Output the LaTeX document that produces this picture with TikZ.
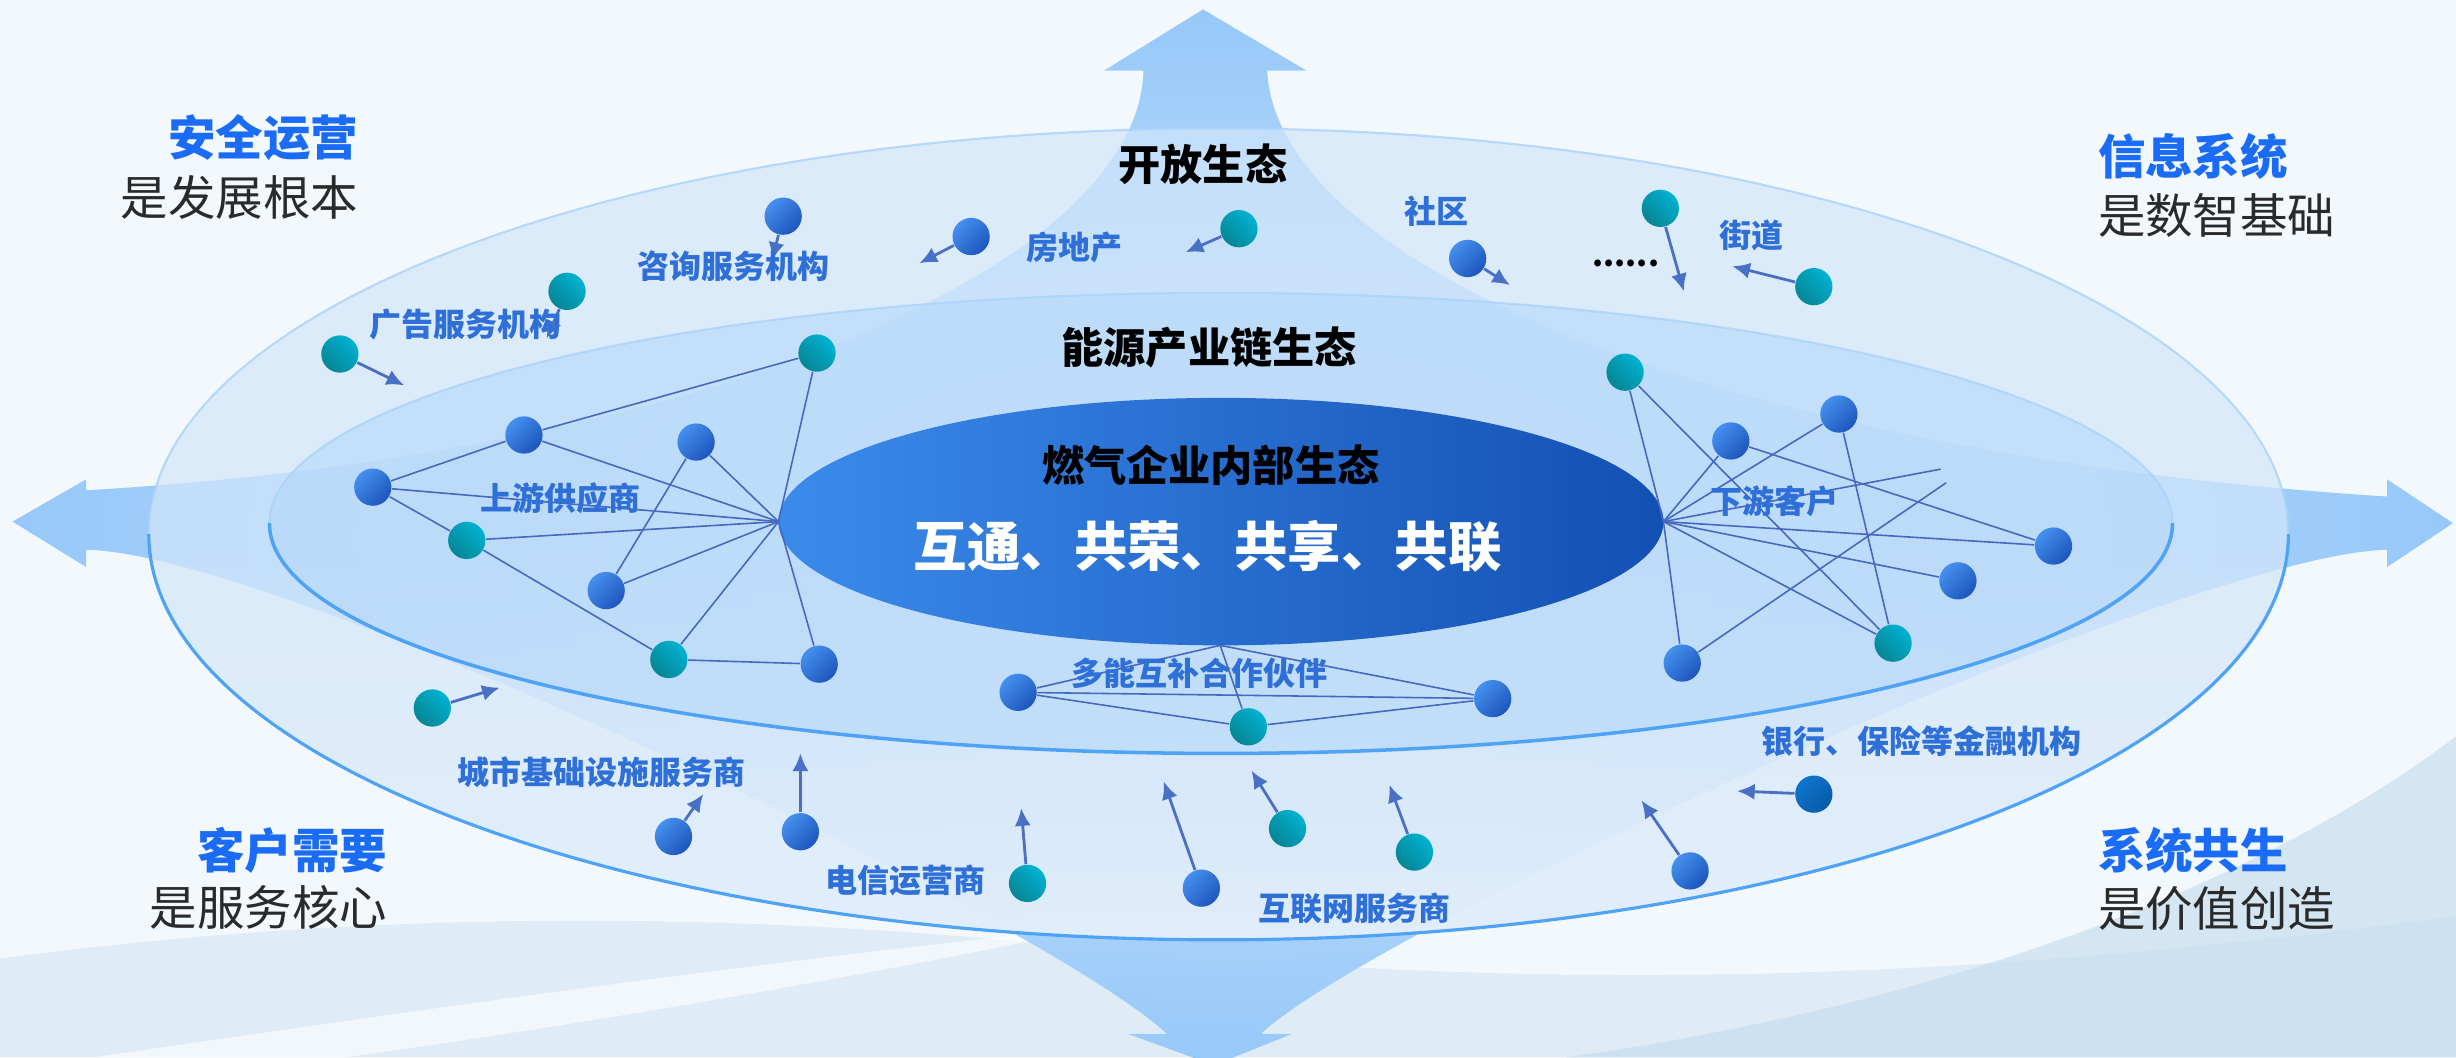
\documentclass[tikz,border=0pt]{standalone}
\usepackage{fontspec}
\setmainfont{Noto Sans CJK SC}
\usetikzlibrary{arrows.meta,fadings}
\definecolor{bgc}{HTML}{F3F8FC}
\definecolor{starout}{HTML}{96C8F9}
\definecolor{starin}{HTML}{D4EAFD}
\definecolor{outerfill}{HTML}{D2E6FA}
\definecolor{outerlow}{HTML}{E2EEFB}
\definecolor{midfill}{HTML}{B5D8F9}
\definecolor{rimc}{HTML}{4FA3F6}
\definecolor{rimlight}{HTML}{A9D3FA}
\definecolor{innerL}{HTML}{3B8BEB}
\definecolor{innerR}{HTML}{1350B3}
\definecolor{ballA}{HTML}{4590EE}
\definecolor{ballB}{HTML}{1D55BC}
\definecolor{tealA}{HTML}{00B2D2}
\definecolor{tealB}{HTML}{078594}
\definecolor{dballA}{HTML}{0F74CC}
\definecolor{dballB}{HTML}{075BAA}
\definecolor{linkc}{HTML}{4767C0}
\definecolor{arrc}{HTML}{4A70C6}
\definecolor{labc}{HTML}{2E6FD8}
\definecolor{titc}{HTML}{1A6CF6}
\definecolor{subc}{HTML}{2A2A2A}
\definecolor{wavec}{HTML}{D3E4F2}
\definecolor{wavec2}{HTML}{C2DAEE}
\pgfdeclarelayer{bglayer}
\pgfdeclarelayer{edgelayer}
\pgfsetlayers{bglayer,edgelayer,main}
\tikzset{
  ball/.style={circle, minimum size=10.6pt, inner sep=0pt},
  bball/.style={ball, top color=ballA, bottom color=ballB, shading angle=45},
  tball/.style={ball, top color=tealA, bottom color=tealB, shading angle=-45},
  dball/.style={ball, top color=dballA, bottom color=dballB, shading angle=45},
  link/.style={draw=linkc, line width=0.45pt},
  flow/.style={draw=arrc, line width=0.8pt, -{Latex[length=5pt,width=4.6pt]}},
  lab/.style={font=\bfseries\fontsize{9.1pt}{10pt}\selectfont, text=labc, inner sep=0pt},
  ring/.style={font=\bfseries\fontsize{12pt}{13pt}\selectfont, text=black, inner sep=0pt},
  ctitle/.style={font=\bfseries\fontsize{13.5pt}{15pt}\selectfont, text=titc, inner sep=0pt},
  csub/.style={font=\fontsize{13.5pt}{15pt}\selectfont, text=subc, inner sep=0pt}
}
\begin{document}
\begin{tikzpicture}[x=0.015663cm, y=-0.015663cm]
\useasboundingbox (0,0) rectangle (1568,675);
\begin{pgfonlayer}{bglayer}
\fill[bgc] (0,0) rectangle (1568,675);
% bottom waves
\fill[wavec, opacity=0.6] (0,612) .. controls (200,585) and (420,580) .. (640,600) .. controls (900,625) and (1150,640) .. (1568,585) -- (1568,675) -- (0,675) -- cycle;
\fill[wavec2, opacity=0.6] (1568,470) .. controls (1450,560) and (1250,640) .. (1000,675) -- (1568,675) -- cycle;
\fill[white, opacity=0.6] (60,675) .. controls (300,640) and (500,612) .. (700,592) .. controls (520,630) and (330,660) .. (220,675) -- cycle;
% star of four arrows
\shade[inner color=starin, outer color=starout]
  (768,6) -- (834,45) -- (809,45) .. controls (815,170) and (1100,290) .. (1524,317)
  -- (1524,306) -- (1566,334) -- (1524,362) -- (1524,351)
  .. controls (1400,353) and (880,590) .. (805,660) -- (825,660) -- (775,680) -- (720,660) -- (745,660)
  .. controls (670,590) and (180,353) .. (55,351) -- (55,362) -- (8,333) -- (55,306) -- (55,313)
  .. controls (450,290) and (727,170) .. (730,45) -- (705,45) -- cycle;
% outer ellipse
\fill[outerfill, opacity=0.7] (778,341) ellipse [x radius=683, y radius=259];
\begin{scope}
  \clip (778,341) ellipse [x radius=683, y radius=259];
  \fill[outerlow, path fading=north] (0,345) rectangle (1568,610);
\end{scope}
\draw[rimlight, line width=0.6pt, opacity=0.8] (778,341) ellipse [x radius=683, y radius=259];
\draw[rimc, line width=0.9pt] (95,341) arc[start angle=180, end angle=0, x radius=683, y radius=259];
% middle ellipse
\fill[midfill, opacity=0.6] (779.5,334) ellipse [x radius=607.5, y radius=147];
\draw[rimlight, line width=0.6pt, opacity=0.8] (779.5,334) ellipse [x radius=607.5, y radius=147];
\draw[rimc, line width=1pt] (172,334) arc[start angle=180, end angle=0, x radius=607.5, y radius=147];
% inner ellipse
\shade[left color=innerL, right color=innerR] (779.5,333) ellipse [x radius=282.5, y radius=79];
\end{pgfonlayer}

% hubs
\coordinate (hubL) at (497,333);
\coordinate (hubR) at (1062,333);
\coordinate (hubB) at (779,412);

% texts of rings
\node[ring] (open) at (768,105) {开放生态};
\node[ring] (chain) at (772,222) {能源产业链生态};
\node[ring] (inner) at (773,297) {燃气企业内部生态};
\node[font=\bfseries\fontsize{15.2pt}{17pt}\selectfont, text=white, inner sep=0pt] (motto) at (771,349) {互通、共荣、共享、共联};

% left network
\node[tball] (L1) at (521.6,225.4) {};
\node[bball] (L2) at (334.5,277.7) {};
\node[bball] (L3) at (444.4,282.2) {};
\node[bball] (L4) at (238,311) {};
\node[tball] (L5) at (298,345) {};
\node[bball] (L6) at (387,377) {};
\node[tball] (L7) at (427,421) {};
\node[bball] (L8) at (523,424) {};
% right network
\node[tball] (R1) at (1037.5,237.6) {};
\node[bball] (R2) at (1105,281.5) {};
\node[bball] (R3) at (1174,264.3) {};
\node[bball] (R4) at (1311,348.6) {};
\node[bball] (R5) at (1250,370.8) {};
\node[tball] (R6) at (1208.6,410.6) {};
\node[bball] (R7) at (1074,423.3) {};
\coordinate (fr1) at (1239,299.5);
\coordinate (fr2) at (1242.5,308.2);
% bottom network
\node[bball] (B1) at (650,442) {};
\node[tball] (B2) at (797,464) {};
\node[bball] (B3) at (953,446) {};

\begin{pgfonlayer}{edgelayer}
\draw[link] (L4) -- (L2);
\draw[link] (L2) -- (L1);
\draw[link] (L2) -- (hubL);
\draw[link] (L4) -- (hubL);
\draw[link] (L4) -- (L5);
\draw[link] (L5) -- (L7);
\draw[link] (L5) -- (hubL);
\draw[link] (L3) -- (L6);
\draw[link] (L3) -- (hubL);
\draw[link] (L6) -- (hubL);
\draw[link] (L7) -- (hubL);
\draw[link] (L1) -- (hubL);
\draw[link] (L7) -- (L8);
\draw[link] (L8) -- (hubL);
\draw[link] (R1) -- (hubR);
\draw[link] (R1) -- (R6);
\draw[link] (R2) -- (hubR);
\draw[link] (R2) -- (R4);
\draw[link] (R3) -- (hubR);
\draw[link] (R3) -- (R6);
\draw[link] (hubR) -- (fr1);
\draw[link] (R7) -- (fr2);
\draw[link] (hubR) -- (R4);
\draw[link] (hubR) -- (R5);
\draw[link] (hubR) -- (R6);
\draw[link] (hubR) -- (R7);
\draw[link] (B1) -- (hubB);
\draw[link] (B1) -- (B3);
\draw[link] (B1) -- (B2);
\draw[link] (B2) -- (hubB);
\draw[link] (hubB) -- (B3);
\draw[link] (B2) -- (B3);
\end{pgfonlayer}

% free nodes with arrows
\node[bball] (f1) at (500,138) {};   \coordinate (t1) at (493,166);
\node[bball] (f2) at (620,151) {};   \coordinate (t2) at (587,168);
\node[tball] (f3) at (791,146) {};   \coordinate (t3) at (757,161);
\node[tball] (f4) at (362,186) {};   \coordinate (t4) at (349,216);
\node[tball] (f5) at (217,226) {};   \coordinate (t5) at (258,246);
\node[bball] (f6) at (937,165) {};   \coordinate (t6) at (964,182);
\node[tball] (f7) at (1060,133) {};  \coordinate (t7) at (1075,186);
\node[tball] (f8) at (1158,183) {};  \coordinate (t8) at (1106,170);
\node[tball] (f9) at (276,452) {};   \coordinate (t9) at (319,439);
\node[bball] (f10) at (430,534) {};  \coordinate (t10) at (449,507);
\node[bball] (f11) at (511,531) {};  \coordinate (t11) at (511,481);
\node[tball] (f12) at (656,564) {};  \coordinate (t12) at (652,516);
\node[bball] (f13) at (767,567) {};  \coordinate (t13) at (743,499);
\node[tball] (f14) at (822,529) {};  \coordinate (t14) at (799,492);
\node[tball] (f15) at (903,544) {};  \coordinate (t15) at (887,501);
\node[bball] (f16) at (1079,556) {}; \coordinate (t16) at (1048,511);
\node[dball] (f17) at (1158,507) {}; \coordinate (t17) at (1109,505);
\begin{pgfonlayer}{edgelayer}
\foreach \i in {1,...,17} { \draw[flow] (f\i) -- (t\i); }
\end{pgfonlayer}

% labels
\node[lab] (a1) at (468,170) {咨询服务机构};
\node[lab] (a2) at (686,158) {房地产};
\node[lab] (a3) at (917,135) {社区};
\node[lab] (a4) at (1118,150) {街道};
\node[lab] (a5) at (297,207) {广告服务机构};
\node[lab] (a6) at (358,318) {上游供应商};
\node[lab] (a7) at (1133,320) {下游客户};
\node[lab] (a8) at (766,430) {多能互补合作伙伴};
\node[lab] (a9) at (384,493) {城市基础设施服务商};
\node[lab] (a10) at (578,562) {电信运营商};
\node[lab] (a11) at (865,580) {互联网服务商};
\node[lab] (a12) at (1227,473) {银行、保险等金融机构};
\node[font=\bfseries\fontsize{9pt}{10pt}\selectfont, inner sep=0pt] (dots) at (1038,168) {......};

% corner texts
\node[ctitle, anchor=east] (c1) at (229,88) {安全运营};
\node[csub, anchor=east] (c1s) at (229,126) {是发展根本};
\node[ctitle, anchor=west] (c2) at (1339,100) {信息系统};
\node[csub, anchor=west] (c2s) at (1339,137.5) {是数智基础};
\node[ctitle, anchor=east] (c3) at (247.5,543) {客户需要};
\node[csub, anchor=east] (c3s) at (247.5,579.5) {是服务核心};
\node[ctitle, anchor=west] (c4) at (1339,543) {系统共生};
\node[csub, anchor=west] (c4s) at (1339,580) {是价值创造};
\end{tikzpicture}
\end{document}
